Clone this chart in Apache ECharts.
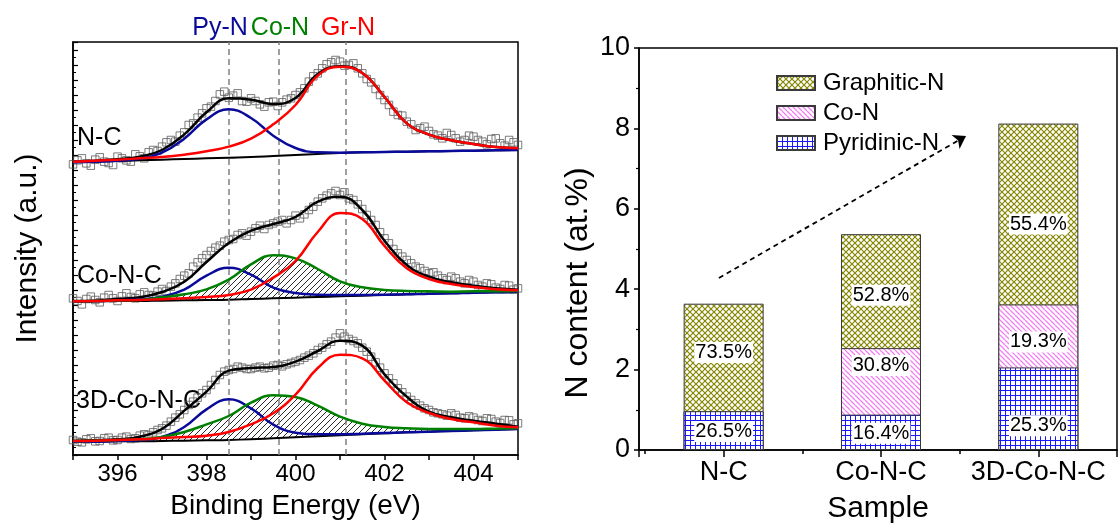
<!DOCTYPE html>
<html>
<head>
<meta charset="utf-8">
<title>N 1s XPS and N content</title>
<script src="https://cdn.jsdelivr.net/npm/echarts@6/dist/echarts.min.js"></script>
<style>
  html, body { margin: 0; padding: 0; background: #fff; }
  #chart { width: 1120px; height: 529px; }
</style>
</head>
<body>
<div id="chart"></div>
<script>
// ---- XPS N 1s spectra (intensity in arbitrary units) ----
const fitEnergy = [395, 395.5, 396, 396.5, 397, 397.5, 398, 398.5, 399, 399.5, 400,
  400.5, 401, 401.5, 402, 402.5, 403, 403.5, 404, 404.5, 405]
const measEnergy = [
  395.0, 395.1, 395.2, 395.3, 395.4, 395.5, 395.6, 395.7, 395.8, 395.9,
  396.0, 396.1, 396.2, 396.3, 396.4, 396.5, 396.6, 396.7, 396.8, 396.9,
  397.0, 397.1, 397.2, 397.3, 397.4, 397.5, 397.6, 397.7, 397.8, 397.9,
  398.0, 398.1, 398.2, 398.3, 398.4, 398.5, 398.6, 398.7, 398.8, 398.9,
  399.0, 399.1, 399.2, 399.3, 399.4, 399.5, 399.6, 399.7, 399.8, 399.9,
  400.0, 400.1, 400.2, 400.3, 400.4, 400.5, 400.6, 400.7, 400.8, 400.9,
  401.0, 401.1, 401.2, 401.3, 401.4, 401.5, 401.6, 401.7, 401.8, 401.9,
  402.0, 402.1, 402.2, 402.3, 402.4, 402.5, 402.6, 402.7, 402.8, 402.9,
  403.0, 403.1, 403.2, 403.3, 403.4, 403.5, 403.6, 403.7, 403.8, 403.9,
  404.0, 404.1, 404.2, 404.3, 404.4, 404.5, 404.6, 404.7, 404.8, 404.9, 405.0]
const peakCenters = [398.5, 399.62, 401.12]

// N-C
const ncMeasured = [
  872, 884, 890, 875, 868, 886, 893, 880, 876, 870,
  895, 890, 884, 880, 902, 896, 890, 908, 915, 912,
  925, 938, 945, 940, 958, 968, 990, 995, 1012, 1025,
  1040, 1045, 1062, 1082, 1090, 1072, 1078, 1085, 1062, 1060,
  1070, 1062, 1052, 1045, 1058, 1060, 1047, 1058, 1066, 1070,
  1080, 1088, 1100, 1120, 1136, 1145, 1160, 1172, 1178, 1185,
  1180, 1168, 1170, 1175, 1160, 1145, 1128, 1118, 1098, 1080,
  1065, 1050, 1030, 1020, 1018, 1000, 992, 975, 980, 985,
  972, 962, 958, 950, 966, 960, 950, 940, 945, 958,
  955, 945, 940, 932, 948, 950, 935, 928, 945, 938, 930]
const ncBaseline = [878, 880, 882, 884, 886, 888, 890, 892, 894, 897, 900, 903, 906, 908, 909, 910, 911, 912, 913, 914, 915]
const ncPyridinic = [878, 880, 883, 889, 907, 949, 1007, 1037, 1011, 958, 921, 908, 907, 908, 909, 910, 911, 912, 913, 914, 915]
const ncGraphitic = [880, 883, 886, 890, 894, 901, 911, 925, 949, 992, 1050, 1138, 1165, 1146, 1074, 995, 961, 944, 933, 924, 920]
const ncFit = [880, 883, 887, 895, 915, 962, 1028, 1070, 1066, 1053, 1071, 1143, 1166, 1146, 1074, 995, 961, 944, 933, 924, 920]

// Co-N-C
const coMeasured = [
  470, 462, 452, 468, 475, 465, 458, 472, 480, 470,
  462, 476, 485, 474, 470, 482, 488, 480, 478, 490,
  498, 492, 505, 515, 528, 538, 545, 565, 578, 590,
  600, 612, 622, 628, 640, 645, 648, 660, 665, 658,
  670, 680, 688, 678, 690, 695, 700, 705, 695, 705,
  718, 710, 722, 735, 745, 760, 770, 778, 785, 792,
  780, 788, 770, 765, 752, 738, 720, 705, 690, 668,
  650, 635, 618, 605, 595, 585, 575, 565, 560, 552,
  545, 548, 538, 530, 525, 535, 530, 520, 515, 525,
  520, 510, 505, 515, 512, 502, 498, 510, 508, 496, 500]
const coBaseline = [460, 461, 462, 462, 463, 464, 465, 466, 468, 470, 472, 474, 476, 478, 480, 482, 484, 485, 487, 488, 490]
const coPyridinic = [460, 461, 464, 467, 475, 496, 538, 562, 541, 502, 486, 481, 480, 480, 481, 482, 484, 485, 487, 488, 490]
const coCoN = [461, 462, 464, 465, 473, 482, 497, 526, 572, 599, 590, 558, 521, 503, 495, 492, 491, 490, 491, 491, 492]
const coGraphitic = [461, 462, 464, 465, 467, 470, 474, 480, 496, 532, 582, 669, 726, 708, 627, 560, 528, 513, 504, 497, 494]
const coFit = [462, 463, 468, 473, 489, 520, 579, 636, 673, 693, 714, 760, 775, 735, 643, 570, 535, 518, 508, 500, 496]

// 3D-Co-N-C
const d3Measured = [
  45, 40, 38, 47, 50, 41, 42, 50, 52, 44,
  45, 52, 55, 48, 50, 58, 62, 60, 68, 75,
  80, 88, 100, 112, 122, 135, 150, 160, 172, 185,
  195, 210, 225, 240, 250, 255, 258, 265, 262, 258,
  258, 262, 265, 260, 262, 268, 270, 266, 272, 276,
  280, 285, 292, 298, 305, 315, 322, 332, 340, 352,
  365, 355, 348, 342, 335, 322, 310, 295, 278, 262,
  245, 230, 215, 200, 188, 175, 165, 155, 148, 140,
  135, 128, 125, 122, 118, 125, 120, 112, 110, 116,
  112, 105, 102, 110, 108, 100, 96, 105, 104, 92, 95]
const d3Baseline = [40, 40, 41, 41, 42, 43, 44, 45, 47, 50, 53, 56, 59, 62, 65, 68, 70, 72, 74, 76, 78]
const d3Pyridinic = [40, 40, 42, 44, 54, 84, 137, 167, 140, 91, 67, 62, 62, 64, 66, 68, 70, 72, 74, 76, 78]
const d3CoN = [42, 43, 45, 47, 54, 69, 92, 117, 157, 179, 174, 148, 115, 94, 84, 80, 78, 78, 78, 79, 80]
const d3Graphitic = [42, 43, 45, 47, 51, 54, 58, 69, 92, 125, 181, 261, 301, 290, 223, 158, 126, 108, 98, 88, 83]
const d3Fit = [42, 44, 47, 55, 78, 133, 190, 253, 261, 264, 280, 312, 343, 328, 242, 175, 130, 113, 103, 94, 85]

// ---- N content (at.%) per sample ----
const samples = ['N-C', 'Co-N-C', '3D-Co-N-C']
const samplePos = [1, 2, 3]
const pyridinicN = [0.965, 0.88, 2.054]
const coN = [0, 1.654, 1.567]
const graphiticN = [2.675, 2.835, 4.499]
const pyridinicPct = ['26.5%', '16.4%', '25.3%']
const coNPct = ['', '30.8%', '19.3%']
const graphiticPct = ['73.5%', '52.8%', '55.4%']
const trendArrow = [[0.97, 4.28], [2.54, 7.81]]

const FONT = '"Liberation Sans", Arial, sans-serif'
const BLUE = '#0a0a9a'
const GREEN = '#008000'
const RED = '#ff0000'

// fill patterns
function makePattern(size, draw) {
  const c = document.createElement('canvas')
  c.width = size
  c.height = size
  const ctx = c.getContext('2d')
  draw(ctx, size)
  return { image: c, repeat: 'repeat' }
}
const olivePattern = makePattern(6, (ctx, s) => {
  ctx.fillStyle = '#fff'
  ctx.fillRect(0, 0, s, s)
  ctx.strokeStyle = '#858500'
  ctx.lineWidth = 1.2
  ctx.beginPath()
  ctx.moveTo(-1, -1); ctx.lineTo(s + 1, s + 1)
  ctx.moveTo(-1, s + 1); ctx.lineTo(s + 1, -1)
  ctx.stroke()
})
const pinkPattern = makePattern(5, (ctx, s) => {
  ctx.fillStyle = '#fff'
  ctx.fillRect(0, 0, s, s)
  ctx.strokeStyle = '#f27ff2'
  ctx.lineWidth = 1.3
  ctx.beginPath()
  for (let k = -1; k <= 1; k++) {
    ctx.moveTo(k * s, 0); ctx.lineTo(k * s + s, s)
  }
  ctx.stroke()
})
const bluePattern = makePattern(5, (ctx, s) => {
  ctx.fillStyle = '#fff'
  ctx.fillRect(0, 0, s, s)
  ctx.fillStyle = '#1a1aff'
  ctx.fillRect(0, 0, s, 1)
  ctx.fillRect(0, 0, 1, s)
})
const hatchPattern = makePattern(6, (ctx, s) => {
  ctx.strokeStyle = '#111'
  ctx.lineWidth = 0.9
  ctx.beginPath()
  for (let k = -1; k <= 1; k++) {
    ctx.moveTo(k * s, s); ctx.lineTo(k * s + s, 0)
  }
  ctx.stroke()
})

const pair = (xs, ys) => xs.map((x, i) => [x, ys[i]])
const curve = (ys, color, width, z) => ({
  type: 'line', xAxisIndex: 0, yAxisIndex: 0,
  data: pair(fitEnergy, ys), smooth: 0.45, symbol: 'none', silent: true,
  lineStyle: { color: color, width: width }, z: z
})
// hatched area between a component curve and its baseline
const hatchArea = (upper, lower) => ({
  type: 'custom', xAxisIndex: 0, yAxisIndex: 0, silent: true, z: 3,
  data: [0],
  renderItem: (params, api) => {
    const top = fitEnergy.map((x, k) => api.coord([x, upper[k]]))
    const bottom = fitEnergy.map((x, k) => api.coord([x, lower[k]])).reverse()
    return {
      type: 'polygon',
      shape: { points: top.concat(bottom), smooth: 0.35 },
      style: { fill: hatchPattern, stroke: null }
    }
  }
})

const spectra = [
  { measured: ncMeasured, baseline: ncBaseline, py: ncPyridinic, co: null, gr: ncGraphitic, fit: ncFit },
  { measured: coMeasured, baseline: coBaseline, py: coPyridinic, co: coCoN, gr: coGraphitic, fit: coFit },
  { measured: d3Measured, baseline: d3Baseline, py: d3Pyridinic, co: d3CoN, gr: d3Graphitic, fit: d3Fit }
]

const xpsSeries = []
xpsSeries.push({
  type: 'line', xAxisIndex: 0, yAxisIndex: 0, data: [], silent: true, z: 1,
  markLine: {
    silent: true, symbol: 'none', label: { show: false },
    lineStyle: { color: '#808080', type: [6, 4], width: 1.5 },
    data: peakCenters.map(x => ({ xAxis: x }))
  }
})
spectra.forEach(s => {
  xpsSeries.push({
    type: 'scatter', xAxisIndex: 0, yAxisIndex: 0, silent: true,
    data: pair(measEnergy, s.measured), symbol: 'rect', symbolSize: 7.5,
    itemStyle: { color: 'rgba(255,255,255,0)', borderColor: '#5a5a5a', borderWidth: 1 }, z: 2
  })
  if (s.co) xpsSeries.push(hatchArea(s.co, s.baseline))
  xpsSeries.push(curve(s.baseline, '#000', 2, 4))
  xpsSeries.push(curve(s.fit, '#000', 2.5, 5))
  xpsSeries.push(curve(s.py, BLUE, 2.5, 6))
  if (s.co) xpsSeries.push(curve(s.co, GREEN, 2.5, 7))
  xpsSeries.push(curve(s.gr, RED, 2.5, 8))
})

// bars are drawn as overlapping cumulative columns (top segment first)
const cumPy = pyridinicN.slice()
const cumCo = pyridinicN.map((v, i) => v + coN[i])
const cumGr = cumCo.map((v, i) => v + graphiticN[i])
const labelShift = {
  py: [1, 1, 17],
  co: [0, -16, 6],
  gr: [-5, 4, 10]
}
const barSeries = (name, tops, segs, pcts, pattern, shift) => ({
  name: name, type: 'bar', xAxisIndex: 1, yAxisIndex: 1, barWidth: 80, barGap: '-100%',
  data: tops.map((v, i) => ({
    value: [samplePos[i], v],
    label: {
      show: segs[i] > 0,
      position: ['50%', (segs[i] / 2 / v * 100) + '%'],
      offset: [0, shift[i]]
    }
  })),
  itemStyle: { color: pattern, borderColor: '#3a3a3a', borderWidth: 1 },
  label: {
    show: true, formatter: p => pcts[p.dataIndex], align: 'center', verticalAlign: 'middle',
    fontSize: 20, fontFamily: FONT, color: '#000', backgroundColor: '#fff', padding: [1, 1, 0, 1]
  },
  silent: true, z: 3
})

const option = {
  animation: false,
  backgroundColor: '#fff',
  textStyle: { fontFamily: FONT },
  grid: [
    { left: 73, top: 42, width: 445, height: 413, show: true, borderColor: '#000', borderWidth: 1.5 },
    { left: 639, top: 48, width: 488, height: 405, show: true, borderColor: '#000', borderWidth: 1.5 }
  ],
  xAxis: [
    {
      gridIndex: 0, type: 'value', min: 395, max: 405, interval: 1,
      name: 'Binding Energy (eV)', nameLocation: 'middle', nameGap: 37,
      nameTextStyle: { fontSize: 28, color: '#000', fontFamily: FONT },
      axisLine: { lineStyle: { color: '#000', width: 1.5 } },
      axisTick: { inside: false, length: 5, lineStyle: { color: '#000', width: 1.5 } },
      axisLabel: {
        fontSize: 24, color: '#000', margin: 7, fontFamily: FONT,
        formatter: v => (v % 2 === 0 ? String(v) : '')
      },
      splitLine: { show: false }
    },
    {
      gridIndex: 1, type: 'value', min: 0.462, max: 3.5, minInterval: 1, maxInterval: 1,
      name: 'Sample', nameLocation: 'middle', nameGap: 44,
      nameTextStyle: { fontSize: 30, color: '#000', fontFamily: FONT },
      axisLine: { onZero: false, lineStyle: { color: '#000', width: 1.5 } },
      axisTick: { inside: false, length: 7, lineStyle: { color: '#000', width: 1.5 } },
      minorTick: { show: true, splitNumber: 2, length: 4, lineStyle: { color: '#000', width: 1.5 } },
      axisLabel: {
        fontSize: 27, color: '#000', margin: 9, fontFamily: FONT,
        formatter: v => {
          const i = samplePos.indexOf(v)
          return i >= 0 ? samples[i] : ''
        }
      },
      splitLine: { show: false }, minorSplitLine: { show: false }
    }
  ],
  yAxis: [
    {
      gridIndex: 0, type: 'value', min: 0, max: 1239, interval: 45,
      name: 'Intensity (a.u.)', nameLocation: 'middle', nameGap: 30,
      nameTextStyle: { fontSize: 30, color: '#000', fontFamily: FONT },
      axisLine: { show: true, lineStyle: { color: '#000', width: 1.5 } },
      axisTick: { show: true, inside: true, length: 5, lineStyle: { color: '#000', width: 1.2 } },
      minorTick: { show: true, splitNumber: 2, length: 3, lineStyle: { color: '#000', width: 1 } },
      axisLabel: { show: false },
      splitLine: { show: false }
    },
    {
      gridIndex: 1, type: 'value', min: 0, max: 10, interval: 2,
      axisLine: { show: true, lineStyle: { color: '#000', width: 1.5 } },
      axisTick: { show: true, inside: false, length: 5, lineStyle: { color: '#000', width: 1.5 } },
      minorTick: { show: true, splitNumber: 2, length: 3, lineStyle: { color: '#000', width: 1.2 } },
      axisLabel: { fontSize: 27, color: '#000', margin: 9, fontFamily: FONT },
      splitLine: { show: false }
    }
  ],
  legend: {
    data: ['Graphitic-N', 'Co-N', 'Pyridinic-N'],
    orient: 'vertical', left: 771, top: 66,
    itemWidth: 38, itemHeight: 14, itemGap: 6, icon: 'rect', selectedMode: false,
    textStyle: { fontSize: 24, color: '#000', fontFamily: FONT, lineHeight: 24, padding: [0, 0, 0, 3] }
  },
  graphic: [
    { type: 'text', style: { x: 220, y: 28, text: 'Py-N', fill: BLUE, font: '25px ' + FONT, align: 'center', verticalAlign: 'middle' } },
    { type: 'text', style: { x: 280, y: 28, text: 'Co-N', fill: GREEN, font: '25px ' + FONT, align: 'center', verticalAlign: 'middle' } },
    { type: 'text', style: { x: 348, y: 28, text: 'Gr-N', fill: RED, font: '25px ' + FONT, align: 'center', verticalAlign: 'middle' } },
    { type: 'text', style: { x: 77, y: 138, text: 'N-C', fill: '#000', font: '25px ' + FONT, align: 'left', verticalAlign: 'middle' } },
    { type: 'text', style: { x: 77, y: 276, text: 'Co-N-C', fill: '#000', font: '25px ' + FONT, align: 'left', verticalAlign: 'middle' } },
    { type: 'text', style: { x: 76, y: 401, text: '3D-Co-N-C', fill: '#000', font: '25px ' + FONT, align: 'left', verticalAlign: 'middle' } },
    {
      type: 'text', x: 578, y: 283, rotation: Math.PI / 2,
      style: { x: 0, y: 0, text: 'N content (at.%)', fill: '#000', font: '32px ' + FONT, align: 'center', verticalAlign: 'middle' }
    }
  ],
  series: xpsSeries.concat([
    barSeries('Graphitic-N', cumGr, graphiticN, graphiticPct, olivePattern, labelShift.gr),
    barSeries('Co-N', cumCo, coN, coNPct, pinkPattern, labelShift.co),
    barSeries('Pyridinic-N', cumPy, pyridinicN, pyridinicPct, bluePattern, labelShift.py),
    {
      type: 'line', xAxisIndex: 1, yAxisIndex: 1, data: [], silent: true, z: 5,
      markLine: {
        silent: true, symbol: ['none', 'arrow'], symbolSize: 12,
        label: { show: false },
        lineStyle: { color: '#000', type: [5, 4], width: 1.8 },
        data: [[{ coord: trendArrow[0] }, { coord: trendArrow[1] }]]
      }
    }
  ])
}

const chart = echarts.init(document.getElementById('chart'), null, { renderer: 'canvas' })
chart.setOption(option)
</script>
</body>
</html>
